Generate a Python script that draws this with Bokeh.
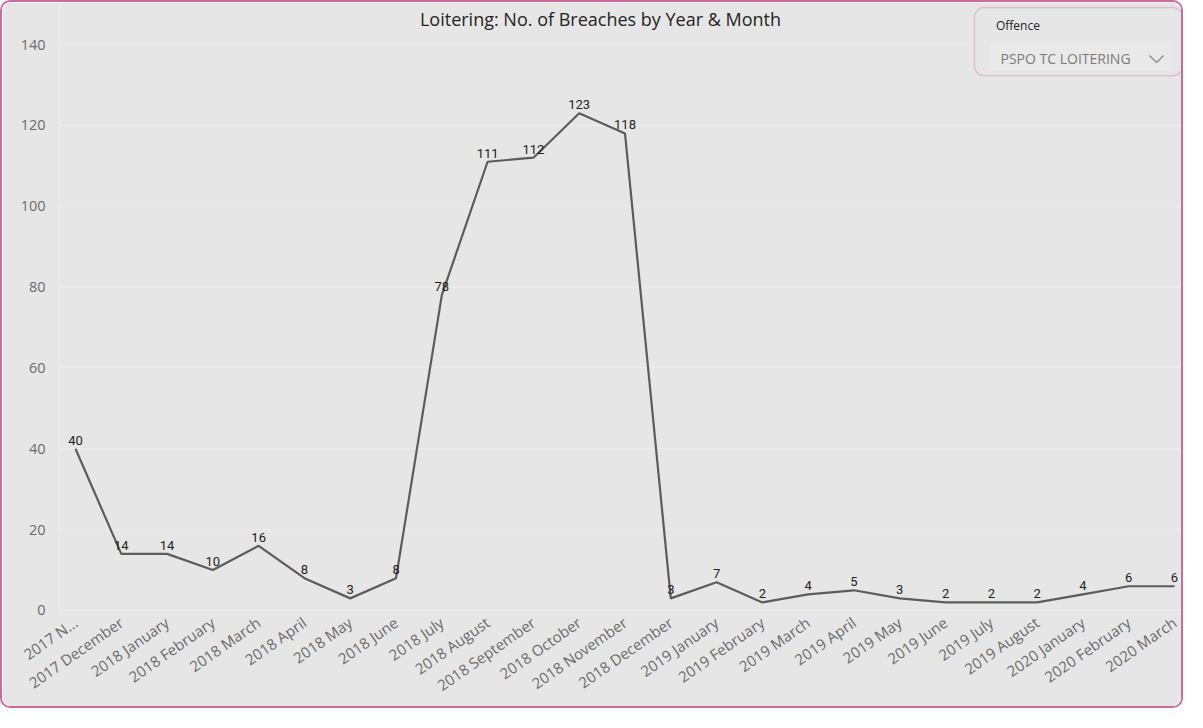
import math
from bokeh.plotting import figure
from bokeh.models import ColumnDataSource, FixedTicker, Label, BoxAnnotation
from bokeh.core.properties import value
from bokeh.embed import file_html
from bokeh.resources import INLINE

# ---- data ----
tick_labels = ["2017 N...", "2017 December", "2018 January", "2018 February", "2018 March",
               "2018 April", "2018 May", "2018 June", "2018 July", "2018 August",
               "2018 September", "2018 October", "2018 November", "2018 December",
               "2019 January", "2019 February", "2019 March", "2019 April", "2019 May",
               "2019 June", "2019 July", "2019 August", "2020 January", "2020 February",
               "2020 March"]
breaches = [40, 14, 14, 10, 16, 8, 3, 8, 78, 111, 112, 123, 118, 3, 7, 2, 4, 5, 3, 2, 2, 2, 4, 6, 6]
y_ticks = [0, 20, 40, 60, 80, 100, 120, 140]
title_text = "Loitering: No. of Breaches by Year & Month"
slicer_title = "Offence"
slicer_value = "PSPO TC LOITERING"

BG = "#e6e6e6"
PINK = "#c96d9c"

xs = list(range(len(breaches)))
src = ColumnDataSource(dict(x=xs, y=breaches, lbl=[str(v) for v in breaches]))

W, H = 1183, 708
p = figure(width=W, height=H, output_backend="svg", toolbar_location=None, title=None,
           x_range=(-0.349, 24.24), y_range=(-0.99, 150.39),
           min_border_left=57, min_border_right=0, min_border_top=0, min_border_bottom=96)
p.styles = {"border": f"2px solid {PINK}", "border-radius": "10px", "overflow": "hidden"}
p.background_fill_color = BG
p.border_fill_color = BG
p.outline_line_color = None

# axes
p.xaxis.ticker = FixedTicker(ticks=xs)
p.xaxis.major_label_overrides = {i: t for i, t in enumerate(tick_labels)}
p.xaxis.major_label_orientation = math.radians(35)
p.yaxis.ticker = FixedTicker(ticks=y_ticks)
for ax in (p.xaxis[0], p.yaxis[0]):
    ax.axis_line_color = None
    ax.major_tick_line_color = None
    ax.minor_tick_line_color = None
    ax.major_tick_out = 0
    ax.major_tick_in = 0
    ax.major_label_text_font = "Open Sans"
    ax.major_label_text_color = "#6b6b6b"
p.xaxis.major_label_text_font_size = "15px"
p.yaxis.major_label_text_font_size = "14.5px"
p.xaxis.major_label_standoff = 6
p.yaxis.major_label_standoff = 14
p.xgrid.grid_line_color = None
p.ygrid.grid_line_color = "#ededed"
p.ygrid.grid_line_width = 1

# line + data labels
p.line("x", "y", source=src, line_color="#5c5c5c", line_width=2.2)
p.text("x", "y", text="lbl", source=src, text_align="center", text_baseline="bottom",
       y_offset=-4, text_font=value("Roboto"), text_font_size="13px", text_color="#222222")

# title
p.add_layout(Label(x=11.465, y=146.4, text=title_text, text_align="center",
                   text_baseline="middle", text_font="Open Sans", text_font_size="18px",
                   text_color="#252423"))

# slicer card
p.add_layout(BoxAnnotation(left=19.63, right=24.18, top=149.15, bottom=132.3,
                           fill_color=BG, fill_alpha=1, line_color=PINK, line_width=1.5,
                           border_radius=10))
p.add_layout(BoxAnnotation(left=19.96, right=23.89, top=140.5, bottom=133.6,
                           fill_color="#e9e9e9", fill_alpha=1, line_color=None,
                           border_radius=2))
p.add_layout(Label(x=20.1, y=144.7, text=slicer_title, text_align="left",
                   text_baseline="middle", text_font="Open Sans", text_font_size="12px",
                   text_color="#252423"))
p.add_layout(Label(x=20.2, y=136.54, text=slicer_value, text_align="left",
                   text_baseline="middle", text_font="Open Sans", text_font_size="14px",
                   text_color="#7a7a7a"))
chev = p.line([23.45, 23.61, 23.76], [137.28, 135.55, 137.28], line_color="#8a8a8a", line_width=1.2)
chev.level = "overlay"

open("out.html", "w").write(file_html(p, INLINE))
